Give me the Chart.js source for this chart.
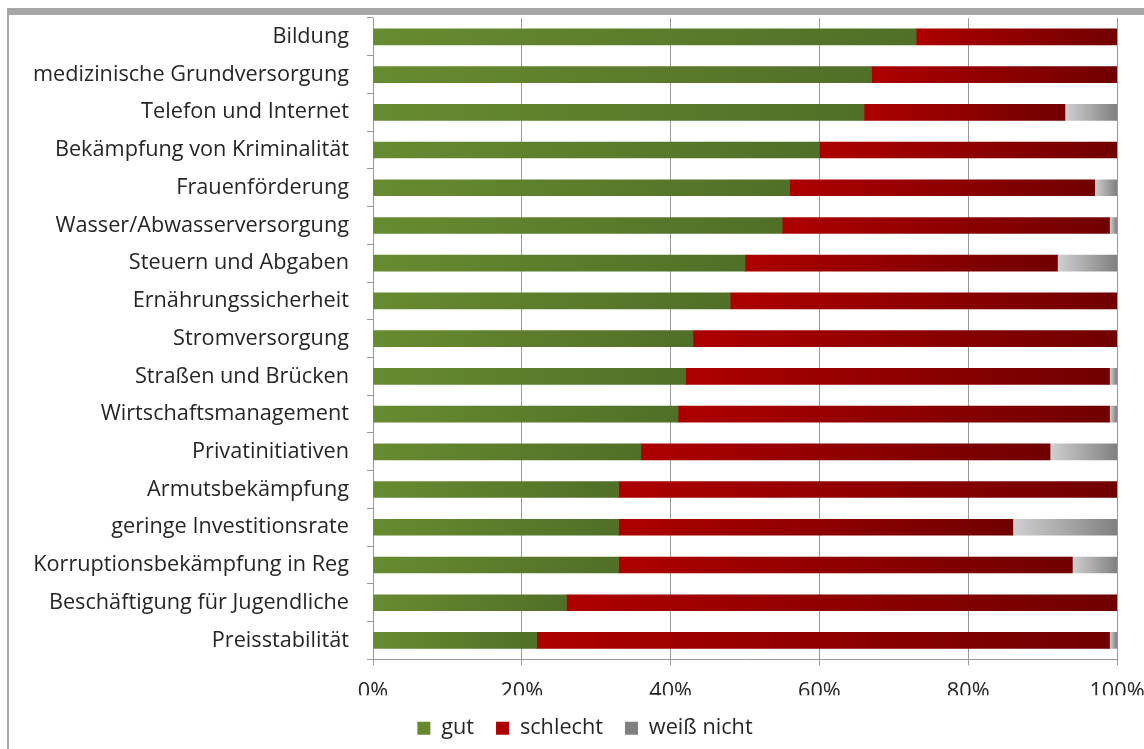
<!DOCTYPE html>
<html>
<head>
<meta charset="utf-8">
<script src="https://cdn.jsdelivr.net/npm/chart.js@4/dist/chart.umd.min.js"></script>
<style>
  html, body { margin: 0; padding: 0; background: #fff; }
  body { width: 1144px; height: 749px; position: relative; overflow: hidden; }
  #frame {
    position: absolute; left: 7px; top: 8px; right: 0; bottom: 0;
    border-top: 7px solid #a6a6a6; border-left: 2px solid #a6a6a6;
  }
  #wrap { position: absolute; left: 9px; top: 15px; width: 1135px; height: 734px; }
</style>
</head>
<body>
<div id="frame"></div>
<div id="wrap"><canvas id="myChart"></canvas></div>
<script>
var labels = [
  "Bildung",
  "medizinische Grundversorgung",
  "Telefon und Internet",
  "Bekämpfung von Kriminalität",
  "Frauenförderung",
  "Wasser/Abwasserversorgung",
  "Steuern und Abgaben",
  "Ernährungssicherheit",
  "Stromversorgung",
  "Straßen und Brücken",
  "Wirtschaftsmanagement",
  "Privatinitiativen",
  "Armutsbekämpfung",
  "geringe Investitionsrate",
  "Korruptionsbekämpfung in Reg",
  "Beschäftigung für Jugendliche",
  "Preisstabilität"
];
var gut       = [73, 67, 66, 60, 56, 55, 50, 48, 43, 42, 41, 36, 33, 33, 33, 26, 22];
var schlecht  = [27, 33, 27, 40, 41, 44, 42, 52, 57, 57, 58, 55, 67, 53, 61, 74, 77];
var weissNicht = [0, 0, 7, 0, 3, 1, 8, 0, 0, 1, 1, 9, 0, 14, 6, 0, 1];
var tickValues = [0, 20, 40, 60, 80, 100];

var allSeries = [gut, schlecht, weissNicht];

// gradient across each bar segment, left to right
function segGradient(c, from, to) {
  var chart = c.chart;
  var xs = chart.scales.x;
  if (!xs || !chart.chartArea || c.dataIndex === undefined) return from;
  var start = 0;
  for (var d = 0; d < c.datasetIndex; d++) start += allSeries[d][c.dataIndex];
  var end = start + allSeries[c.datasetIndex][c.dataIndex];
  var x0 = xs.getPixelForValue(start), x1 = xs.getPixelForValue(end);
  if (!isFinite(x0) || !isFinite(x1) || x1 - x0 < 1) return to;
  var g = chart.ctx.createLinearGradient(x0, 0, x1, 0);
  g.addColorStop(0, from);
  g.addColorStop(1, to);
  return g;
}

Chart.defaults.font.family = "'Open Sans', sans-serif";
Chart.defaults.font.size = 21.7;
Chart.defaults.color = '#262626';

var ctx = document.getElementById('myChart').getContext('2d');
var myChart = new Chart(ctx, {
  type: 'bar',
  data: {
    labels: labels,
    datasets: [{
        label: 'gut',
        data: gut,
        backgroundColor: function(c) { return segGradient(c, '#678b30', '#506f27'); }
      }, {
        label: 'schlecht',
        data: schlecht,
        backgroundColor: function(c) { return segGradient(c, '#ad0000', '#700000'); }
      }, {
        label: 'weiß nicht',
        data: weissNicht,
        backgroundColor: function(c) { return segGradient(c, '#d0d0d0', '#808080'); }
      }
    ]
  },
  options: {
    indexAxis: 'y',
    responsive: true,
    maintainAspectRatio: false,
    animation: false,
    barThickness: 16,
    layout: { padding: { top: 3, right: 0, bottom: 0, left: 17 } },
    scales: {
      x: {
        stacked: true,
        min: 0,
        max: 100,
        afterBuildTicks: function(scale) {
          scale.ticks = tickValues.map(function(v) { return { value: v }; });
        },
        afterFit: function(scale) {
          scale.paddingLeft = 0;
          scale.paddingRight = 0;
          scale.height = 36;
        },
        ticks: {
          padding: 14,
          maxRotation: 0,
          callback: function(v) { return v + '%'; }
        },
        grid: { color: '#9a9a9a', lineWidth: 1, tickLength: 6 },
        border: { color: '#9a9a9a' }
      },
      y: {
        stacked: true,
        afterFit: function(scale) {
          scale.width = 347;
          scale.paddingTop = 0;
          scale.paddingBottom = 0;
        },
        ticks: { padding: 18 },
        grid: { drawOnChartArea: false, color: '#9a9a9a', tickLength: 6, offset: true },
        border: { color: '#9a9a9a' }
      },
      // empty strip on the right so the legend centres like the original
      yRight: {
        type: 'linear',
        position: 'right',
        afterFit: function(scale) {
          scale.width = 27;
          scale.paddingTop = 0;
          scale.paddingBottom = 0;
        },
        ticks: { display: false },
        grid: { display: false, drawTicks: false },
        border: { display: false }
      }
    },
    plugins: {
      legend: {
        position: 'bottom',
        labels: {
          boxWidth: 13,
          boxHeight: 13,
          padding: 22,
          color: '#262626'
        }
      },
      tooltip: { enabled: false }
    }
  }
});
</script>
</body>
</html>
